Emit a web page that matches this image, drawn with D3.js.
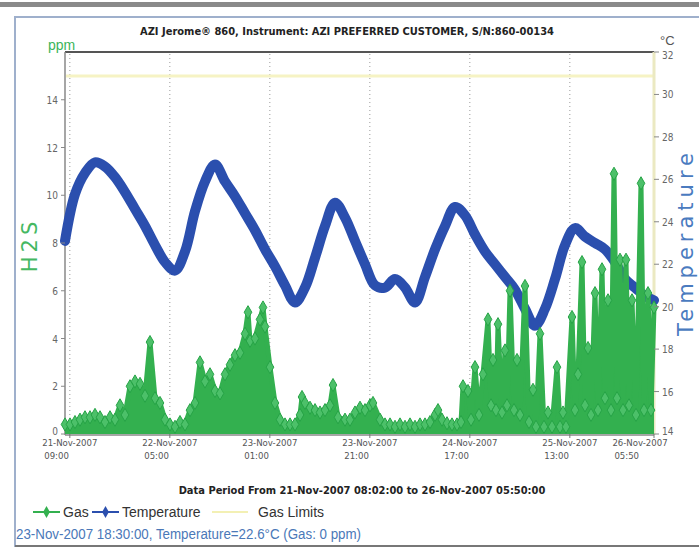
<!DOCTYPE html>
<html>
<head>
<meta charset="utf-8">
<script src="https://cdn.jsdelivr.net/npm/d3@7"></script>
<style>
  body { margin: 0; background: #fff; }
  svg { display: block; }
</style>
</head>
<body>
<svg id="chart" width="699" height="550"></svg>
<script>
// hours after the data start (21-Nov-2007 08:02)
const tempHours = [0, 2, 4, 6, 8, 10, 12, 14, 16, 18, 20, 22, 24, 26, 28, 30, 32, 34, 36, 38,
  40, 42, 44, 46, 48, 50, 52, 54, 56, 58, 60, 62, 64, 66, 68, 70, 72, 74, 76, 78,
  80, 82, 84, 86, 88, 90, 92, 94, 96, 98, 100, 102, 104, 106, 108, 110, 112, 114, 116, 117.8]
const tempValues = [23.1, 25.3, 26.3, 26.8, 26.6, 26.1, 25.4, 24.6, 23.8, 22.9, 22.1, 21.7, 22.6, 24.5, 25.9, 26.7, 25.9, 25.2, 24.4, 23.6,
  22.7, 21.9, 21.0, 20.2, 20.9, 22.3, 23.8, 24.9, 24.2, 23.1, 22.0, 21.0, 20.9, 21.3, 20.9, 20.2, 21.4, 22.7, 23.8, 24.7,
  24.3, 23.4, 22.6, 22.0, 21.4, 20.8, 19.9, 19.1, 19.9, 21.3, 22.9, 23.7, 23.3, 23.0, 22.7, 22.1, 21.3, 20.9, 20.5, 20.3]

const gasHours = [0, 1, 2, 3, 4, 5, 6, 7, 8, 9, 10, 11, 12, 13, 14, 15, 16, 17, 18, 19,
  20, 21, 22, 23, 24, 25, 26, 27, 28, 29, 30, 31, 32, 33, 34, 35, 36, 36.6, 37, 38,
  39, 39.6, 40, 41, 42, 43, 44, 45, 46, 47, 47.4, 48, 49, 50, 51, 52, 53, 53.6, 54.6, 56,
  57, 58, 59, 60, 61, 61.6, 63, 64, 65, 66, 67, 68, 69, 70, 71, 72, 73, 74, 74.6, 75.4,
  76.4, 77.4, 78.4, 79.2, 79.6, 80.6, 81.2, 82, 82.8, 83.6, 84.6, 85.2, 85.6, 86.2, 86.6, 87.4, 88, 88.4, 89, 89.8,
  90.4, 91, 92, 92.8, 93.6, 94.2, 95, 95.8, 96.6, 97.4, 98.4, 99, 99.6, 100.2, 101.4, 102, 102.6, 103.4, 104, 104.6,
  105.2, 106, 106.6, 107.4, 108, 108.6, 109.2, 109.8, 110.4, 111, 111.6, 112.2, 112.8, 113.4, 114.2, 115.2, 115.8, 116.6, 117.2, 117.8]
const gasValues = [0.4, 0.4, 0.5, 0.6, 0.7, 0.7, 0.8, 0.7, 0.5, 0.7, 0.6, 1.2, 0.8, 2.0, 2.2, 2.1, 1.6, 3.85, 1.5, 1.3,
  0.6, 0.4, 0.3, 0.5, 0.4, 1.0, 1.3, 3.0, 2.2, 2.5, 1.8, 1.7, 2.5, 2.9, 3.3, 3.4, 4.2, 5.1, 3.9, 4.0,
  4.8, 5.3, 4.5, 2.8, 1.3, 0.6, 0.4, 0.4, 0.4, 0.8, 1.55, 1.3, 1.1, 1.0, 0.9, 1.0, 1.2, 2.05, 0.7, 0.6,
  0.6, 0.9, 1.1, 1.0, 1.2, 1.3, 0.6, 0.4, 0.4, 0.3, 0.4, 0.3, 0.4, 0.3, 0.4, 0.4, 0.5, 0.8, 1.0, 0.6,
  0.45, 0.4, 0.4, 0.5, 2.0, 1.8, 0.6, 2.8, 0.8, 2.5, 4.8, 1.2, 3.1, 1.0, 4.6, 0.9, 3.5, 1.2, 6.0, 1.0,
  3.1, 0.8, 6.2, 0.5, 1.85, 0.3, 4.2, 0.3, 0.9, 0.3, 2.8, 0.3, 0.9, 0.3, 4.9, 1.0, 2.5, 7.2, 1.2, 3.6,
  0.8, 5.9, 1.0, 6.9, 1.5, 5.6, 1.0, 10.9, 1.5, 7.3, 1.0, 7.3, 1.2, 5.6, 0.8, 10.5, 1.0, 5.9, 1.0, 5.3]

const gasLimit = 15
const gasTicks = [0, 2, 4, 6, 8, 10, 12, 14]
const tempTicks = [14, 16, 18, 20, 22, 24, 26, 28, 30, 32]
const xTickDates = ["21-Nov-2007", "22-Nov-2007", "23-Nov-2007", "23-Nov-2007", "24-Nov-2007", "25-Nov-2007", "26-Nov-2007"]
const xTickTimes = ["09:00", "05:00", "01:00", "21:00", "17:00", "13:00", "05:50"]
const xTickHours = [0.967, 20.967, 40.967, 60.967, 80.967, 100.967, 117.8]

const title = "AZI Jerome\u00ae 860, Instrument: AZI PREFERRED CUSTOMER,  S/N:860-00134"
const period = "Data Period From 21-Nov-2007 08:02:00 to 26-Nov-2007 05:50:00"
const status = "23-Nov-2007 18:30:00, Temperature=22.6\u00b0C (Gas: 0 ppm)"

const start = new Date(2007, 10, 21, 8, 2)
const toDate = h => new Date(start.getTime() + h * 3600000)

const narrow = '"DejaVu Sans Condensed", "Liberation Sans Narrow", sans-serif'
const gasColor = '#33b04f'
const tempColor = '#2b4fae'

const svg = d3.select('#chart')

// frame
svg.append('rect').attr('x', 0).attr('y', 2).attr('width', 699).attr('height', 5).attr('fill', '#8a8a8a')
svg.append('rect').attr('x', 15).attr('y', 17).attr('width', 700).attr('height', 529)
  .attr('fill', 'none').attr('stroke', '#9fb0cc').attr('stroke-width', 2)
svg.append('line').attr('x1', 15).attr('x2', 699).attr('y1', 546).attr('y2', 546)
  .attr('stroke', '#777').attr('stroke-width', 2)

const x = d3.scaleTime()
  .domain([toDate(0), toDate(117.8)])
  .range([65, 654])
const yGas = d3.scaleLinear().domain([0, 16]).range([434, 52])
const yTemp = d3.scaleLinear().domain([14, 32]).range([434, 52])

// dotted vertical grid
svg.append('g')
  .selectAll('line')
  .data(xTickHours.slice(0, 6))
  .join('line')
  .attr('x1', d => x(toDate(d))).attr('x2', d => x(toDate(d)))
  .attr('y1', 54).attr('y2', 434)
  .attr('stroke', '#9a9a9a')
  .attr('stroke-width', 1)
  .attr('stroke-dasharray', '1 3')

// gas limit
svg.append('line')
  .attr('x1', 66).attr('x2', 654)
  .attr('y1', yGas(gasLimit)).attr('y2', yGas(gasLimit))
  .attr('stroke', '#f6f3c4').attr('stroke-width', 3)

// axes lines
svg.append('line').attr('x1', 65).attr('x2', 654).attr('y1', 52).attr('y2', 52)
  .attr('stroke', '#555').attr('stroke-width', 2)
svg.append('line').attr('x1', 65).attr('x2', 65).attr('y1', 52).attr('y2', 435)
  .attr('stroke', '#888').attr('stroke-width', 1.5)
svg.append('line').attr('x1', 654).attr('x2', 654).attr('y1', 52).attr('y2', 435)
  .attr('stroke', '#ebe9c2').attr('stroke-width', 3)

const tempData = tempHours.map((h, i) => ({ t: toDate(h), v: tempValues[i] }))
const gasData = gasHours.map((h, i) => ({ t: toDate(h), v: gasValues[i] }))

// temperature
svg.append('path')
  .datum(tempData)
  .attr('d', d3.line().x(d => x(d.t)).y(d => yTemp(d.v)).curve(d3.curveCatmullRom.alpha(0.5)))
  .attr('fill', 'none')
  .attr('stroke', tempColor)
  .attr('stroke-width', 10)
  .attr('stroke-linejoin', 'round')
  .attr('stroke-linecap', 'round')

// gas
svg.append('path')
  .datum(gasData)
  .attr('d', d3.area().x(d => x(d.t)).y0(yGas(0)).y1(d => yGas(d.v)))
  .attr('fill', gasColor)
svg.append('path')
  .datum(gasData)
  .attr('d', d3.line().x(d => x(d.t)).y(d => yGas(d.v)))
  .attr('fill', 'none')
  .attr('stroke', gasColor)
  .attr('stroke-width', 5)
  .attr('stroke-linejoin', 'round')
svg.append('g')
  .selectAll('path')
  .data(gasData)
  .join('path')
  .attr('transform', d => `translate(${x(d.t)},${yGas(d.v)})`)
  .attr('d', d3.symbol(d3.symbolDiamond, 50))
  .attr('fill', '#4cc069')
  .attr('stroke', '#26a346')
  .attr('stroke-width', 1)

// x axis
svg.append('line').attr('x1', 65).attr('x2', 654).attr('y1', 435).attr('y2', 435)
  .attr('stroke', '#888').attr('stroke-width', 1.5)
const xLab = svg.append('g')
xTickHours.forEach((h, i) => {
  const px = x(toDate(h))
  xLab.append('line').attr('x1', px).attr('x2', px).attr('y1', 434).attr('y2', 438)
    .attr('stroke', '#777')
  const cx = i === xTickHours.length - 1 ? px - 14 : px
  const t1 = xLab.append('text')
    .attr('x', cx).attr('y', 446)
    .attr('text-anchor', 'middle')
    .attr('font-family', narrow).attr('font-size', 9.5).attr('fill', '#555')
    .text(xTickDates[i])
  const w = t1.node().getComputedTextLength()
  xLab.append('text')
    .attr('x', cx - w / 2 + 2).attr('y', 459)
    .attr('font-family', narrow).attr('font-size', 9.5).attr('fill', '#555')
    .text(xTickTimes[i])
})

// left axis
const yl = svg.append('g')
gasTicks.forEach(v => {
  yl.append('line').attr('x1', 61).attr('x2', 65).attr('y1', yGas(v)).attr('y2', yGas(v)).attr('stroke', '#888')
  yl.append('text').attr('x', 58).attr('y', yGas(v) + (v === 0 ? 1 : 4))
    .attr('text-anchor', 'end')
    .attr('font-family', narrow).attr('font-size', 10).attr('fill', '#666')
    .text(v)
})

// right axis
const yr = svg.append('g')
tempTicks.forEach(v => {
  yr.append('line').attr('x1', 654).attr('x2', 659).attr('y1', yTemp(v)).attr('y2', yTemp(v)).attr('stroke', '#888')
  yr.append('text').attr('x', 662).attr('y', yTemp(v) + (v === 14 ? 1 : v === 32 ? 7 : 4))
    .attr('font-family', narrow).attr('font-size', 10).attr('fill', '#666')
    .text(v)
})

// unit labels
svg.append('text').attr('x', 48).attr('y', 50)
  .attr('font-family', 'Liberation Sans, sans-serif').attr('font-size', 14).attr('fill', '#3cb55a')
  .text('ppm')
svg.append('text').attr('x', 660).attr('y', 45)
  .attr('font-family', 'Liberation Sans, sans-serif').attr('font-size', 13).attr('fill', '#555')
  .text('\u00b0C')

svg.append('text')
  .attr('transform', 'translate(37,245) rotate(-90)')
  .attr('text-anchor', 'middle')
  .attr('font-family', 'DejaVu Sans, sans-serif').attr('font-size', 21)
  .attr('letter-spacing', 4)
  .attr('fill', '#45b862')
  .text('H2S')
svg.append('text')
  .attr('transform', 'translate(693,242) rotate(-90)')
  .attr('text-anchor', 'middle')
  .attr('font-family', 'DejaVu Sans, sans-serif').attr('font-size', 21)
  .attr('letter-spacing', 5)
  .attr('fill', '#4a7bbf')
  .text('Temperature')

// titles
svg.append('text').attr('x', 347).attr('y', 35)
  .attr('text-anchor', 'middle')
  .attr('font-family', narrow).attr('font-size', 11).attr('font-weight', 'bold').attr('fill', '#222')
  .text(title)
svg.append('text').attr('x', 362).attr('y', 494)
  .attr('text-anchor', 'middle')
  .attr('font-family', narrow).attr('font-size', 11).attr('font-weight', 'bold').attr('fill', '#222')
  .text(period)

// legend
const legend = [
  { label: 'Gas', color: gasColor, x: 33, tx: 63, marker: true },
  { label: 'Temperature', color: tempColor, x: 92, tx: 122, marker: true },
  { label: 'Gas Limits', color: '#f3f0b4', x: 212, tx: 258, marker: false }
]
const lg = svg.append('g')
legend.forEach(d => {
  const len = d.marker ? 27 : 36
  lg.append('line').attr('x1', d.x).attr('x2', d.x + len).attr('y1', 512).attr('y2', 512)
    .attr('stroke', d.color).attr('stroke-width', 2)
  if (d.marker) {
    lg.append('path').attr('transform', `translate(${d.x + len / 2},512)`)
      .attr('d', d3.symbol(d3.symbolDiamond, 40)).attr('fill', d.color)
  }
  lg.append('text').attr('x', d.tx).attr('y', 517)
    .attr('font-family', 'Liberation Sans, sans-serif').attr('font-size', 14).attr('fill', '#333')
    .text(d.label)
})

svg.append('text')
  .attr('transform', 'translate(16,539) scale(0.89,1)')
  .attr('font-family', 'Liberation Sans, sans-serif').attr('font-size', 15).attr('fill', '#4a78b8')
  .text(status)
</script>
</body>
</html>
